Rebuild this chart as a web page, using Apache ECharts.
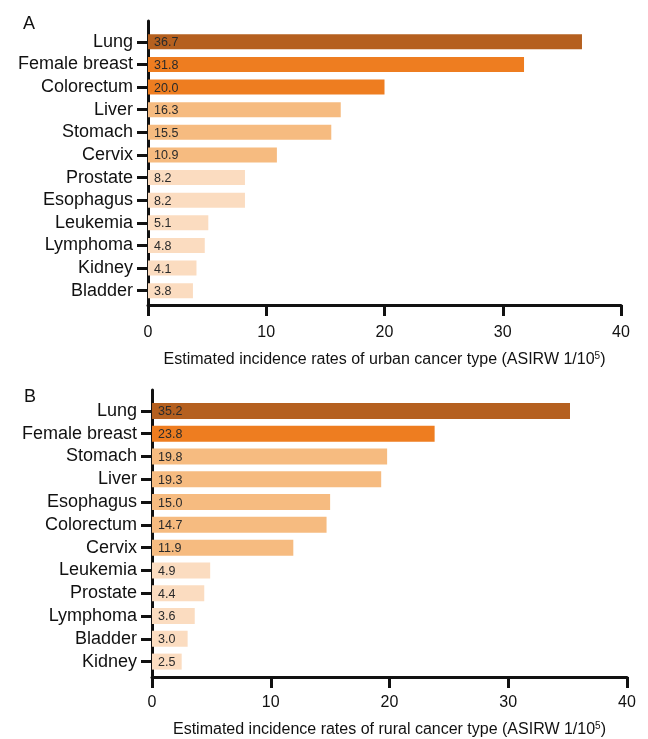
<!DOCTYPE html>
<html>
<head>
<meta charset="utf-8">
<script src="https://cdn.jsdelivr.net/npm/echarts@6/dist/echarts.min.js"></script>
<style>
  html, body { margin: 0; padding: 0; background: #fff; }
  #chart { width: 648px; height: 739px; }
</style>
</head>
<body>
<div id="chart"></div>
<script>
// Urban cancer incidence (ASIRW per 100,000)
const urbanCategories = ['Lung', 'Female breast', 'Colorectum', 'Liver', 'Stomach', 'Cervix',
  'Prostate', 'Esophagus', 'Leukemia', 'Lymphoma', 'Kidney', 'Bladder'];
const urbanValues = [36.7, 31.8, 20.0, 16.3, 15.5, 10.9, 8.2, 8.2, 5.1, 4.8, 4.1, 3.8];

// Rural cancer incidence (ASIRW per 100,000)
const ruralCategories = ['Lung', 'Female breast', 'Stomach', 'Liver', 'Esophagus', 'Colorectum',
  'Cervix', 'Leukemia', 'Prostate', 'Lymphoma', 'Bladder', 'Kidney'];
const ruralValues = [35.2, 23.8, 19.8, 19.3, 15.0, 14.7, 11.9, 4.9, 4.4, 3.6, 3.0, 2.5];

const xTicks = [0, 10, 20, 30, 40];
const urbanTitle = 'Estimated incidence rates of urban cancer type (ASIRW 1/10{sup|5})';
const ruralTitle = 'Estimated incidence rates of rural cancer type (ASIRW 1/10{sup|5})';

// colour tiers: highest rate, >= 20, >= 10, below 10
function barColor(v, maxV) {
  if (v === maxV) return '#b5601f';
  if (v >= 20) return '#ee7d20';
  if (v >= 10) return '#f6bb80';
  return '#fbdcc0';
}

const FONT = 'Liberation Sans, Arial, sans-serif';
const INK = '#111';

const grids = [];
const xAxes = [];
const yAxes = [];
const series = [];

function addPanel(cats, vals, title, geo) {
  const maxV = Math.max(...vals);
  const gBars = grids.length;
  grids.push({ left: geo.left, right: geo.right, top: geo.barTop, height: geo.barBottom - geo.barTop });
  grids.push({ left: geo.left, right: geo.right, top: geo.lineTop, height: geo.axisY - geo.lineTop });

  // value axis under the bars
  xAxes.push({
    gridIndex: gBars, type: 'value', min: xTicks[0], max: xTicks[xTicks.length - 1],
    interval: xTicks[1] - xTicks[0], offset: geo.axisY - geo.barBottom,
    axisLine: { show: true, lineStyle: { color: INK, width: 3 } },
    axisTick: { show: true, length: 11, lineStyle: { color: INK, width: 3 } },
    axisLabel: { fontFamily: FONT, fontSize: 16, color: INK, margin: geo.labelMargin },
    splitLine: { show: false },
    name: title, nameLocation: 'middle', nameGap: geo.nameGap,
    nameTextStyle: {
      fontFamily: FONT, fontSize: 16, color: INK,
      rich: { sup: { fontFamily: FONT, fontSize: 10, color: INK, padding: [0, 0, 8, 0] } }
    }
  });
  // category axis with labels and ticks
  yAxes.push({
    gridIndex: gBars, type: 'category', data: cats, inverse: true,
    axisLine: { show: false },
    axisTick: { show: true, interval: 0, alignWithLabel: true, length: 11, lineStyle: { color: INK, width: 3 } },
    axisLabel: { interval: 0, fontFamily: FONT, fontSize: 18, color: INK, margin: 15 }
  });
  // full-height vertical axis line
  xAxes.push({ gridIndex: gBars + 1, type: 'value', show: false, min: 0, max: 1 });
  yAxes.push({
    gridIndex: gBars + 1, type: 'value', min: 0, max: 1,
    axisLine: { show: true, lineStyle: { color: INK, width: 3 } },
    axisTick: { show: false }, axisLabel: { show: false }, splitLine: { show: false }
  });

  series.push({
    type: 'bar', xAxisIndex: xAxes.length - 2, yAxisIndex: yAxes.length - 2,
    barWidth: geo.barWidth,
    data: vals.map(v => ({ value: v, itemStyle: { color: barColor(v, maxV) } })),
    label: {
      show: true, position: 'insideLeft', distance: 6, offset: [0, 1],
      formatter: p => p.value.toFixed(1),
      fontFamily: FONT, fontSize: 12.5, color: '#2a2a2a'
    },
    silent: true, animation: false
  });
}

addPanel(urbanCategories, urbanValues, urbanTitle, {
  left: 148, right: 27, barTop: 30.5, barBottom: 302, lineTop: 21, axisY: 305,
  barWidth: 15, labelMargin: 20, nameGap: 46
});
addPanel(ruralCategories, ruralValues, ruralTitle, {
  left: 152, right: 21, barTop: 399.5, barBottom: 674, lineTop: 390, axisY: 678,
  barWidth: 16, labelMargin: 18, nameGap: 44
});

const chart = echarts.init(document.getElementById('chart'), null, { renderer: 'canvas' });
chart.setOption({
  backgroundColor: '#fff',
  animation: false,
  title: [
    { text: 'A', left: 18, top: 10, textStyle: { fontFamily: FONT, fontSize: 18, fontWeight: 'normal', color: INK } },
    { text: 'B', left: 19, top: 383, textStyle: { fontFamily: FONT, fontSize: 18, fontWeight: 'normal', color: INK } }
  ],
  grid: grids,
  xAxis: xAxes,
  yAxis: yAxes,
  series: series
});
</script>
</body>
</html>
